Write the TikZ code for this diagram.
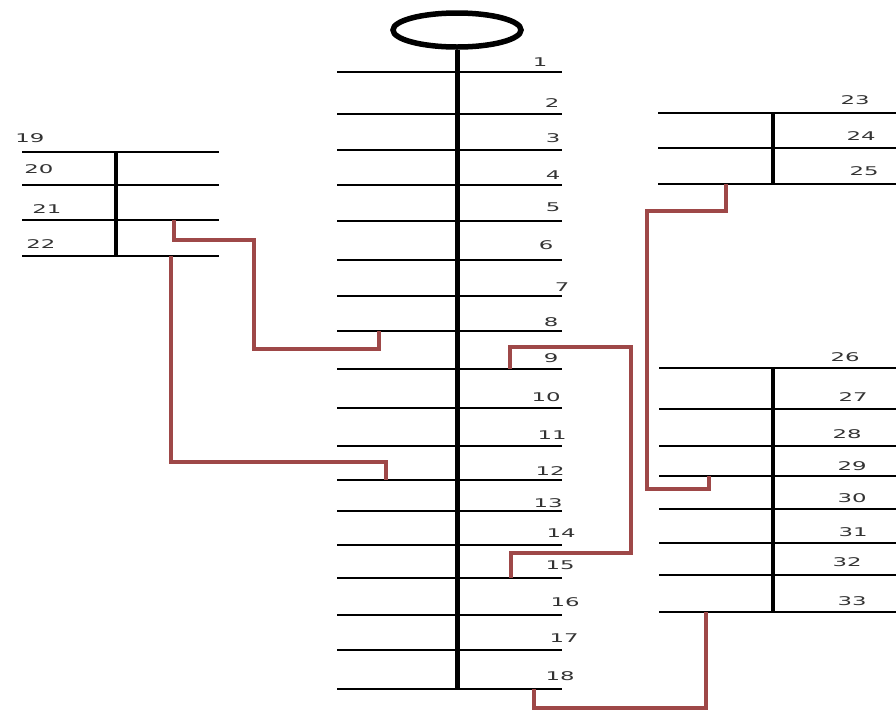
\documentclass[tikz,border=0pt]{standalone}
\usepackage{fontspec}
\usepackage{graphicx}
\usetikzlibrary{shapes.geometric}
\setmainfont{DejaVu Sans}
\definecolor{tiered}{RGB}{158,72,72}
\begin{document}
\begin{tikzpicture}[x=1pt,y=-1pt,
  busline/.style={line width=2pt,black},
  spine/.style={line width=5pt,black},
  grpspine/.style={line width=4pt,black},
  tieline/.style={line width=3.3pt,tiered},
  lbl/.style={inner sep=0pt,font=\fontsize{12}{14}\selectfont,text=black!80},
  ring/.style={draw,ellipse,line width=5.5pt,minimum width=128pt,minimum height=34pt,inner sep=0pt}]
\useasboundingbox (0,0) rectangle (896,710);
% source
\node[ring] (src) at (457,30) {};
% main feeder buses 1-18
\foreach \n/\y in {1/72,2/114,3/150,4/185,5/221,6/260,7/296,8/331,9/369,10/408,11/446,12/480,13/511,14/545,15/578,16/615,17/650,18/689}{
  \coordinate (b\n L) at (337,\y);
  \coordinate (b\n R) at (562,\y);
  \draw[busline] (b\n L) -- (b\n R);
}
\draw[spine] (src.south) -- (457,690);
% left group 19-22
\foreach \n/\y in {19/152,20/185,21/220,22/256}{
  \coordinate (b\n L) at (22,\y);
  \coordinate (b\n R) at (219,\y);
  \draw[busline] (b\n L) -- (b\n R);
}
\draw[grpspine] (116,151) -- (116,257);
% right top 23-25
\foreach \n/\y in {23/113,24/148,25/184}{
  \coordinate (b\n L) at (658,\y);
  \coordinate (b\n R) at (896,\y);
  \draw[busline] (b\n L) -- (b\n R);
}
\draw[grpspine] (773,113) -- (773,184);
% right bottom 26-33
\foreach \n/\y in {26/368,27/409,28/446,29/476,30/509,31/543,32/575,33/612}{
  \coordinate (b\n L) at (659,\y);
  \coordinate (b\n R) at (896,\y);
  \draw[busline] (b\n L) -- (b\n R);
}
\draw[grpspine] (773,368) -- (773,612);
% labels
\foreach \n/\x/\y in {1/540/62,2/552/103,3/553/138,4/553/175,5/553/207,6/546/245,7/562/287,8/551/322,9/551/358,10/546/397,11/552/435,12/550/471,13/548/503,14/561/533,15/560/565,16/565/602,17/564/638,18/560/676,
  19/30/138,20/39/169,21/47/209,22/41/244,23/855/100,24/861/136,25/864/171,
  26/845/357,27/853/397,28/847/434,29/852/466,30/852/498,31/853/532,32/847/562,33/852/601}{
  \node[lbl] (t\n) at (\x,\y) {\scalebox{1.9}[1]{\n}};
}
% tie lines
\coordinate (p21) at (174,220);
\coordinate (p8) at (379,331);
\draw[tieline] (p21) |- (254,240) |- (379,349) -- (p8);
\coordinate (p22) at (171,256);
\coordinate (p12) at (386,480);
\draw[tieline] (p22) |- (386,462) -- (p12);
\coordinate (p9) at (510,369);
\coordinate (p15) at (511,578);
\draw[tieline] (p9) |- (631,347) |- (511,553) -- (p15);
\coordinate (p25) at (726,184);
\coordinate (p29) at (709,476);
\draw[tieline] (p25) |- (647,211) |- (709,489) -- (p29);
\coordinate (p33) at (706,612);
\coordinate (p18) at (534,689);
\draw[tieline] (p33) |- (534,708) -- (p18);
\end{tikzpicture}
\end{document}
